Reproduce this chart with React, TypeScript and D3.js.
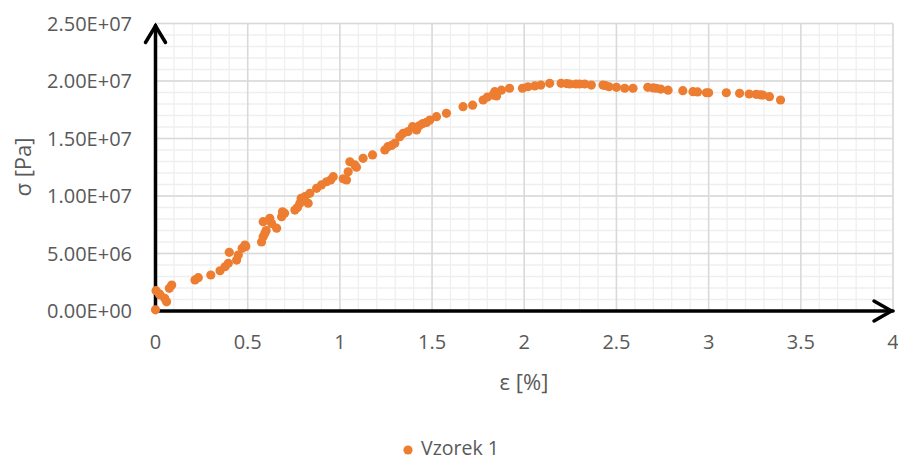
import React from "react";
import * as d3 from "d3";

const eps: number[] = [
  0.0, 0.003, 0.02, 0.025, 0.05, 0.06, 0.075, 0.088,
  0.214, 0.232, 0.3, 0.35, 0.377, 0.395, 0.4, 0.44, 0.449, 0.47, 0.485, 0.49,
  0.575, 0.584, 0.593, 0.584, 0.6, 0.62, 0.63, 0.657, 0.684, 0.689, 0.7,
  0.756, 0.77, 0.783, 0.79, 0.81, 0.828, 0.837, 0.874, 0.9, 0.928, 0.95, 0.964,
  1.018, 1.036, 1.045, 1.054, 1.081, 1.09, 1.126, 1.177,
  1.244, 1.26, 1.28, 1.298, 1.325, 1.343, 1.37, 1.394, 1.416, 1.43, 1.45, 1.47, 1.488, 1.524, 1.578,
  1.668, 1.72, 1.777, 1.8, 1.83, 1.84, 1.85, 1.876, 1.92,
  1.99, 2.02, 2.057, 2.09, 2.138, 2.2, 2.23, 2.247, 2.28, 2.3, 2.328, 2.364,
  2.427, 2.44, 2.46, 2.5, 2.545, 2.59, 2.67, 2.7, 2.716, 2.74, 2.78,
  2.86, 2.915, 2.94, 2.988, 3.0, 3.096, 3.168, 3.22, 3.258, 3.28, 3.294, 3.33, 3.39,
];

const sigmaMPa: number[] = [
  0.1, 1.77, 1.5, 1.39, 1.1, 0.8, 1.97, 2.26,
  2.7, 2.9, 3.13, 3.5, 3.85, 4.15, 5.1, 4.43, 4.87, 5.45, 5.74, 5.6,
  6.0, 6.46, 6.75, 7.77, 7.0, 8.06, 7.6, 7.2, 8.2, 8.63, 8.5,
  8.78, 9.0, 9.37, 9.8, 9.94, 9.37, 10.23, 10.67, 10.96, 11.24, 11.4, 11.68,
  11.5, 11.4, 12.1, 12.98, 12.7, 12.5, 13.28, 13.57,
  14.0, 14.29, 14.4, 14.58, 15.16, 15.45, 15.6, 16.03, 15.74, 16.1, 16.3, 16.4, 16.6, 16.9, 17.19,
  17.77, 17.9, 18.35, 18.6, 18.78, 19.07, 18.7, 19.2, 19.37,
  19.37, 19.5, 19.57, 19.65, 19.8, 19.8, 19.78, 19.74, 19.74, 19.74, 19.74, 19.65,
  19.65, 19.6, 19.5, 19.45, 19.37, 19.37, 19.45, 19.4, 19.37, 19.3, 19.2,
  19.16, 19.07, 19.05, 18.98, 18.98, 18.98, 18.93, 18.87, 18.84, 18.8, 18.78, 18.64, 18.35,
];

const xTicks: number[] = [0, 0.5, 1, 1.5, 2, 2.5, 3, 3.5, 4];
const yTicks: number[] = [0, 5e6, 1e7, 1.5e7, 2e7, 2.5e7];
const yTickLabels: string[] = ["0.00E+00", "5.00E+06", "1.00E+07", "1.50E+07", "2.00E+07", "2.50E+07"];
const xTitle = "ε [%]";
const yTitle = "σ [Pa]";
const seriesName = "Vzorek 1";

const W = 898;
const H = 460;
const left = 155.5;
const right = 893;
const top = 23.5;
const bottom = 311;
const FONT = "'Open Sans', Lato, sans-serif";
const TXT = "#595959";
const ORANGE = "#ED7D31";

export default function App() {
  const x = d3.scaleLinear().domain([0, 4]).range([left, right]);
  const y = d3.scaleLinear().domain([0, 2.5e7]).range([bottom, top]);
  const minorX = d3.range(0, 40.5, 1).map((v) => v / 10);
  const minorY = d3.range(0, 25.5, 1).map((v) => v * 1e6);

  return (
    <div style={{ position: "absolute", left: 0, top: 0 }}>
      <svg width={W} height={H} style={{ display: "block", background: "#fff" }}>
        {minorX.map((v, i) => (
          <line key={"mx" + i} x1={x(v)} x2={x(v)} y1={top} y2={bottom} stroke="#efefef" strokeWidth={1.3} />
        ))}
        {minorY.map((v, i) => (
          <line key={"my" + i} x1={left} x2={right} y1={y(v)} y2={y(v)} stroke="#efefef" strokeWidth={1.3} />
        ))}
        {xTicks.map((v, i) => (
          <line key={"gx" + i} x1={x(v)} x2={x(v)} y1={top} y2={bottom} stroke="#d9d9d9" strokeWidth={1.5} />
        ))}
        {yTicks.map((v, i) => (
          <line key={"gy" + i} x1={left} x2={right} y1={y(v)} y2={y(v)} stroke="#d9d9d9" strokeWidth={1.5} />
        ))}

        {/* axes with arrows */}
        <g stroke="#000" strokeWidth={3.5} fill="none" strokeLinecap="round" strokeLinejoin="miter">
          <line x1={left} x2={left} y1={bottom} y2={top + 2} />
          <polyline points={`${left - 10},${top + 19} ${left},${top + 2.5} ${left + 10},${top + 19}`} />
          <line x1={left} x2={right} y1={bottom} y2={bottom} />
          <polyline points={`${right - 19},${bottom - 10} ${right - 1.5},${bottom} ${right - 19},${bottom + 10}`} />
        </g>

        {/* points */}
        {eps.map((e, i) => (
          <circle key={"p" + i} cx={x(e)} cy={y(sigmaMPa[i] * 1e6)} r={4.6} fill={ORANGE} />
        ))}

        {/* y tick labels */}
        {yTicks.map((v, i) => (
          <text key={"yl" + i} x={132} y={y(v) + 7} textAnchor="end" fontFamily={FONT} fontSize={20} fill={TXT}>
            {yTickLabels[i]}
          </text>
        ))}
        {/* x tick labels */}
        {xTicks.map((v, i) => (
          <text key={"xl" + i} x={x(v)} y={348.5} textAnchor="middle" fontFamily={FONT} fontSize={20} fill={TXT}>
            {String(v)}
          </text>
        ))}

        <text x={524} y={390} textAnchor="middle" fontFamily={FONT} fontSize={22} fill={TXT}>
          {xTitle}
        </text>
        <text
          transform={`translate(31,${167}) rotate(-90)`}
          textAnchor="middle"
          fontFamily={FONT}
          fontSize={22}
          fill={TXT}
        >
          {yTitle}
        </text>

        {/* legend */}
        <circle cx={408} cy={450} r={4.6} fill={ORANGE} />
        <text x={421} y={455} fontFamily={FONT} fontSize={19.5} fill={TXT}>
          {seriesName}
        </text>
      </svg>
    </div>
  );
}
